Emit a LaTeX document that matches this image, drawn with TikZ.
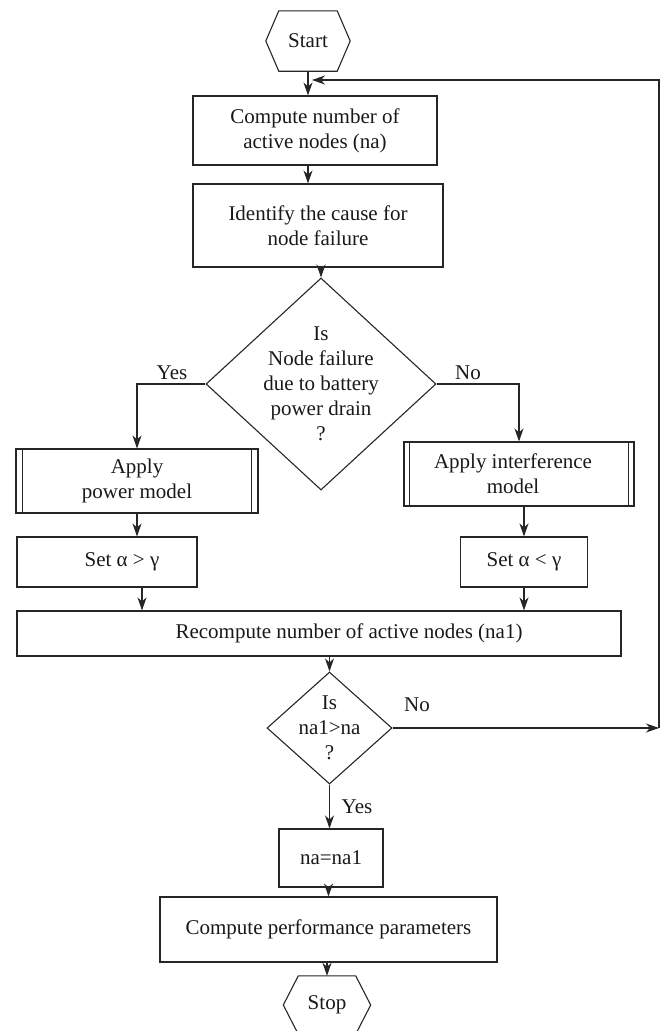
\documentclass[tikz,border=0pt]{standalone}
\usepackage{fontspec}
\setmainfont{Liberation Serif}
\usetikzlibrary{arrows.meta,shapes.geometric}
\begin{document}
\begin{tikzpicture}[x=1pt,y=-1pt,
  every node/.style={font=\fontsize{21}{25}\selectfont, text=black!90},
  line/.style={draw=black!85, line width=1.1pt},
  arr/.style={line, -{Stealth[length=13pt,width=9pt,inset=4pt]}},
  box/.style={line, rectangle, inner sep=0pt, align=center},
  term/.style={rectangle, inner sep=0pt, minimum width=84pt, minimum height=60pt},
  decide/.style={line, diamond, inner sep=0pt},
  lbl/.style={inner sep=0pt}]
\useasboundingbox (0,0) rectangle (661,1031);

% terminals (hexagons drawn around plain nodes)
\node[term] (start) at (308,41) {Start};
\draw[line] (start.west) -- ([xshift=13pt]start.north west) -- ([xshift=-13pt]start.north east)
  -- (start.east) -- ([xshift=-13pt]start.south east) -- ([xshift=13pt]start.south west) -- cycle;

% process boxes
\node[box, minimum width=244pt, minimum height=69pt] (b1) at (315,130.5) {Compute number of\\active nodes (na)};
\node[box, minimum width=250pt, minimum height=83pt] (b2) at (318,225.5) {Identify the cause for\\node failure};

% first decision
\node[decide, minimum width=230pt, minimum height=212pt] (d1) at (321,384) {};
\node[align=center, inner sep=0pt] (d1t) at (d1) {Is\\Node failure\\due to battery\\power drain\\?};

% predefined processes
\node[box, minimum width=242pt, minimum height=64pt] (pm) at (137,481) {Apply\\power model};
\draw[line] ([xshift=7pt]pm.north west) -- ([xshift=7pt]pm.south west);
\draw[line] ([xshift=-7pt]pm.north east) -- ([xshift=-7pt]pm.south east);
\node[box, minimum width=230pt, minimum height=64pt] (im) at (519,474) {\hspace*{-12pt}Apply interference\\\hspace*{-12pt}model};
\draw[line] ([xshift=6pt]im.north west) -- ([xshift=6pt]im.south west);
\draw[line] ([xshift=-6pt]im.north east) -- ([xshift=-6pt]im.south east);

% parameter settings
\node[box, minimum width=180pt, minimum height=50pt] (sg) at (107,562) {\hspace*{30pt}Set α > γ};
\node[box, minimum width=127pt, minimum height=50pt] (sl) at (524,562) {Set α < γ};

\node[box, minimum width=604pt, minimum height=45pt] (rc) at (319,633.5) {\hspace*{60pt}Recompute number of active nodes (na1)};

% second decision
\node[decide, minimum width=125pt, minimum height=112pt] (d2) at (329.5,728) {};
\node[align=center, inner sep=0pt] (d2t) at (d2) {Is\\na1>na\\?};

\node[box, minimum width=104pt, minimum height=58pt] (na) at (331,858) {na=na1};
\node[box, minimum width=337pt, minimum height=65pt] (cp) at (328.5,929.5) {Compute performance parameters};

\node[term, minimum width=87pt, minimum height=58pt] (stop) at (327,1005) {Stop};
\draw[line] (stop.west) -- ([xshift=15pt]stop.north west) -- ([xshift=-15pt]stop.north east)
  -- (stop.east) -- ([xshift=-15pt]stop.south east) -- ([xshift=15pt]stop.south west) -- cycle;

% loop-back corners
\coordinate (r1) at (659,728);
\coordinate (r2) at (659,80);
\coordinate (r3) at (312,80);

% connectors
\draw[arr] (start.south) -- (start.south |- b1.north);
\draw[arr] (b1.south -| start) -- (b2.north -| start);
\draw[arr] (b2.south -| d1) -- (d1.north);
\draw[arr] (d1.west) -| (pm.north);
\draw[arr] (d1.east) -| (im.north);
\draw[arr] (pm.south) -- (sg.north -| pm);
\draw[arr] (im.south -| sl) -- (sl.north);
\draw[arr] ([xshift=35pt]sg.south) -- ([xshift=35pt]sg.south |- rc.north);
\draw[arr] (sl.south) -- (sl.south |- rc.north);
\draw[arr] (rc.south -| d2) -- (d2.north);
\draw[arr] (d2.east) -- (r1);
\draw[arr] (r1) -- (r2) -- (r3);
\draw[arr] (d2.south) -- (d2.south |- na.north);
\draw[arr] (na.south -| cp) -- (cp.north);
\draw[arr] (cp.south -| stop) -- (stop.north);

% branch labels
\node[lbl] (y1) at (172,373) {Yes};
\node[lbl] (n1) at (468,373) {No};
\node[lbl] (n2) at (417,705) {No};
\node[lbl] (y2) at (357,807) {Yes};
\end{tikzpicture}
\end{document}
